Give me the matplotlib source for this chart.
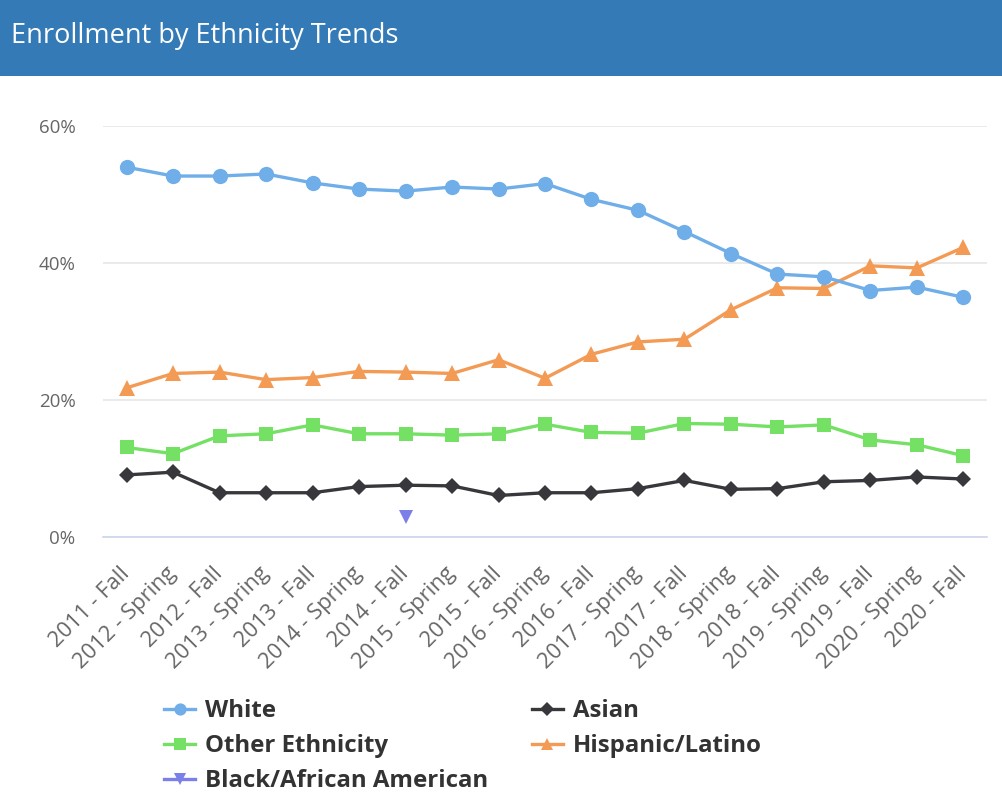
import matplotlib
matplotlib.use("Agg")
import matplotlib.pyplot as plt
import numpy as np
from matplotlib.lines import Line2D
from matplotlib.patches import Rectangle

plt.rcParams['font.family'] = ['Open Sans', 'DejaVu Sans']

terms = ["2011 - Fall", "2012 - Spring", "2012 - Fall", "2013 - Spring", "2013 - Fall",
         "2014 - Spring", "2014 - Fall", "2015 - Spring", "2015 - Fall", "2016 - Spring",
         "2016 - Fall", "2017 - Spring", "2017 - Fall", "2018 - Spring", "2018 - Fall",
         "2019 - Spring", "2019 - Fall", "2020 - Spring", "2020 - Fall"]

white = [54.0, 52.7, 52.7, 53.0, 51.7, 50.8, 50.5, 51.1, 50.8, 51.6,
         49.3, 47.7, 44.6, 41.4, 38.4, 38.0, 36.0, 36.5, 35.0]
hispanic = [21.8, 23.9, 24.1, 23.0, 23.3, 24.2, 24.1, 23.9, 25.9, 23.2,
            26.7, 28.5, 28.9, 33.2, 36.4, 36.3, 39.6, 39.3, 42.3]
other = [13.1, 12.2, 14.8, 15.1, 16.4, 15.1, 15.1, 14.9, 15.1, 16.5,
         15.3, 15.2, 16.6, 16.5, 16.1, 16.4, 14.2, 13.5, 11.9]
asian = [9.1, 9.5, 6.5, 6.5, 6.5, 7.4, 7.6, 7.5, 6.1, 6.5,
         6.5, 7.1, 8.3, 7.0, 7.1, 8.1, 8.3, 8.8, 8.5]
black = [None, None, None, None, None, None, 2.9, None, None, None,
         None, None, None, None, None, None, None, None, None]

yticks = [0, 20, 40, 60]
ytick_labels = ["0%", "20%", "40%", "60%"]

W, H = 1002, 798
fig = plt.figure(figsize=(W / 100, H / 100), dpi=100)
fig.patch.set_facecolor("white")

# header bar with title
fig.add_artist(Rectangle((0, 1 - 76 / H), 1, 76 / H, transform=fig.transFigure,
                         facecolor="#337ab7", edgecolor="none", zorder=0))
fig.text(11 / W, 1 - 35.5 / H, "Enrollment by Ethnicity Trends", color="white",
         fontsize=19.5, va="center", ha="left")

ax = fig.add_axes([103.3 / W, 1 - 537.3 / H, (986.7 - 103.3) / W, (537.3 - 126) / H])
x = np.arange(len(terms))

def to_arr(vals):
    return np.array([np.nan if v is None else v for v in vals], dtype=float)

series = [
    ("White", white, "#6faee8", "o", 11),
    ("Other Ethnicity", other, "#74e064", "s", 10.5),
    ("Black/African American", black, "#7b80e8", "v", 10.5),
    ("Asian", asian, "#38383c", "D", 8.5),
    ("Hispanic/Latino", hispanic, "#f39a55", "^", 11),
]
order_z = {"White": 5, "Hispanic/Latino": 4, "Other Ethnicity": 3, "Asian": 2, "Black/African American": 1}

handles = []
for name, vals, color, mk, ms in series:
    ax.plot(x, to_arr(vals), color=color, lw=2.4, marker=mk, markersize=ms,
            markeredgewidth=0, zorder=order_z[name], clip_on=False)
    handles.append(Line2D([], [], color=color, lw=2.4, marker=mk, markersize=ms * 0.8,
                          markeredgewidth=0, label=name))

ax.set_xlim(-0.5, len(terms) - 0.5)
ax.set_ylim(0, 60)
ax.set_yticks(yticks)
ax.set_yticklabels(ytick_labels)
ax.set_xticks(x)
ax.set_xticklabels(terms, rotation=45, ha="right", va="center", rotation_mode="anchor")

for s in ["top", "right", "left"]:
    ax.spines[s].set_visible(False)
ax.spines["bottom"].set_color("#ccd6eb")
ax.spines["bottom"].set_linewidth(1.2)
ax.grid(axis="y", color="#e6e6e6", lw=1.2)
ax.set_axisbelow(True)
ax.tick_params(axis="y", length=0, pad=20, labelsize=13.5, labelcolor="#666666")
ax.tick_params(axis="x", length=0, pad=24, labelsize=15.8, labelcolor="#666666")

leg = fig.legend(handles=handles, loc="upper left",
                 bbox_to_anchor=(164 / W, 1 - 699 / H), ncol=2, frameon=False,
                 prop={"weight": "bold", "size": 17.3}, labelcolor="#333333",
                 handlelength=1.3, handletextpad=0.42, columnspacing=1.8,
                 labelspacing=0.46, borderpad=0, borderaxespad=0)

fig.savefig("out.png", dpi=100)
